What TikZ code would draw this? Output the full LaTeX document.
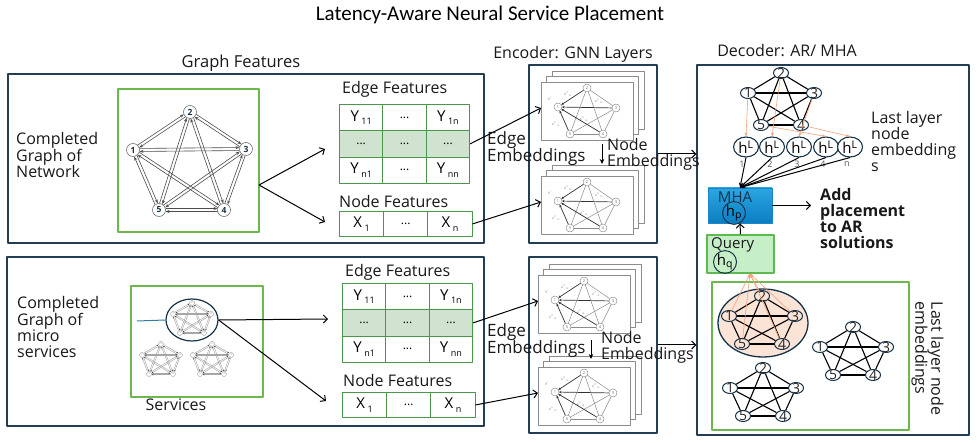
\documentclass[tikz,border=0pt]{standalone}
\usepackage{fontspec}
\setmainfont{Open Sans}
\newfontfamily\titlefont{Carlito}
\usetikzlibrary{arrows.meta,calc,shapes.geometric}

\definecolor{panel}{HTML}{233D52}
\definecolor{boxgreen}{HTML}{6CB84C}
\definecolor{tabgreen}{HTML}{4C964C}
\definecolor{tabfill}{HTML}{D0E3D0}
\definecolor{mhatop}{HTML}{2BA6E3}
\definecolor{mhabot}{HTML}{0B7EC2}
\definecolor{mhaedge}{HTML}{1A86C6}
\definecolor{querygreen}{HTML}{C6EFC8}
\definecolor{queryedge}{HTML}{5DBA4E}
\definecolor{peach}{HTML}{FBE3D6}
\definecolor{attn}{HTML}{F2A27C}
\definecolor{navy}{HTML}{163349}
\definecolor{leadteal}{HTML}{2F7FA5}

\newcommand\setfs[1]{\fontsize{#1}{#1}\selectfont}
\newcommand\lowsub[1]{\raisebox{-0.45ex}{\setfs{9}#1}}
\newcommand\Yv[1]{Y\,\lowsub{#1}}
\newcommand\Xv[1]{X\,\lowsub{#1}}
\newcommand\celldots{{\setfs{12}...}}
\newcommand\ctrtxt[1]{\makebox[0pt]{\smash{\raisebox{-.5\height}{#1}}}}

\tikzset{
  panelbox/.style={draw=panel, line width=1.3pt, inner sep=0pt},
  greenbox/.style={draw=boxgreen, line width=1.3pt, inner sep=0pt},
  lbl/.style={font=\setfs{16}, text=black!90, inner sep=0pt},
  cell/.style={draw=tabgreen, line width=0.9pt, minimum width=43.4pt, minimum height=26.3pt,
    anchor=north west, inner sep=0pt, font=\setfs{15}},
  fcell/.style={cell, minimum width=44.2pt, minimum height=25pt},
  conn/.style={line width=1pt, -{Straight Barb[length=4pt,width=8pt]}},
  downarrow/.style={line width=0.9pt, -{Stealth[length=5pt,width=4.5pt]}},
  dgnode/.style={circle, draw=black!55, line width=0.6pt, fill=white, minimum size=13pt,
    inner sep=0pt, font=\setfs{8.5}\bfseries, text=navy},
  dgarc/.style={line width=0.6pt, draw=black!70, -{Stealth[length=4pt,width=3pt]},
    shorten <=6.5pt, shorten >=6.5pt},
  mininode/.style={circle, draw=black!40, line width=0.4pt, fill=white, minimum size=5pt,
    inner sep=0pt, font=\setfs{2.5}, text=black!50},
  miniarc/.style={line width=0.45pt, draw=black!35, -{Stealth[length=1.6pt,width=1.4pt,color=black!75]},
    shorten <=2.8pt, shorten >=2.8pt},
  sheet/.style={draw=black!45, line width=0.6pt, fill=white},
  thumbnode/.style={circle, draw=black!45, line width=0.5pt, fill=white, minimum size=8pt,
    inner sep=0pt, font=\setfs{4}, text=black!60},
  thumbedge/.style={draw=black!45, line width=0.5pt, shorten <=4pt, shorten >=4pt},
  thumbin/.style={draw=black!80, line width=0.7pt, shorten <=4pt, shorten >=4pt,
    -{Stealth[length=2.6pt,width=2.4pt]}},
  tinytxt/.style={font=\setfs{3.2}, text=black!55, inner sep=0pt},
  dnode/.style={ellipse, draw=navy, line width=1pt, minimum width=15pt, minimum height=11pt,
    inner sep=0pt, font=\setfs{14}, text=black!85},
  dedge/.style={draw=black, line width=1.1pt},
  hnode/.style={ellipse, draw=navy, line width=1.1pt, fill=white, minimum width=25pt,
    minimum height=20pt, inner sep=0pt, font=\setfs{15}},
  hsmall/.style={ellipse, draw=navy, line width=1pt, minimum width=20pt, minimum height=17pt,
    inner sep=0pt, font=\setfs{15}},
  attnarrow/.style={draw=attn, line width=0.6pt, -{Stealth[length=4pt,width=3pt]}},
  hlarrow/.style={draw=black, line width=1pt, -{Stealth[length=5pt,width=4pt]}},
}

% edge-feature matrix: name, left, top
\newcommand\edgetab[3]{%
 \begin{scope}[shift={(#2,#3)}]
  \node[cell] (#1-a1) at (0,0) {\Yv{11}};
  \node[cell] (#1-a2) at (43.4,0) {\celldots};
  \node[cell] (#1-a3) at (86.8,0) {\Yv{1n}};
  \node[cell,fill=tabfill] (#1-b1) at (0,26.3) {\celldots};
  \node[cell,fill=tabfill] (#1-b2) at (43.4,26.3) {\celldots};
  \node[cell,fill=tabfill] (#1-b3) at (86.8,26.3) {\celldots};
  \node[cell] (#1-c1) at (0,52.6) {\Yv{n1}};
  \node[cell] (#1-c2) at (43.4,52.6) {\celldots};
  \node[cell] (#1-c3) at (86.8,52.6) {\Yv{nn}};
 \end{scope}}

% node-feature vector: name, left, top
\newcommand\nodetab[3]{%
 \begin{scope}[shift={(#2,#3)}]
  \node[fcell] (#1-1) at (0,0) {\Xv{1}};
  \node[fcell] (#1-2) at (44.2,0) {\celldots};
  \node[fcell] (#1-3) at (88.4,0) {\Xv{n}};
 \end{scope}}

% small directed K5 of a micro-service: prefix, position of node 2
\newcommand\minidg[3]{%
 \begin{scope}[shift={(#2,#3)}]
  \coordinate (#1c1) at (-19,11);
  \coordinate (#1c2) at (0,0);
  \coordinate (#1c3) at (19,11);
  \coordinate (#1c4) at (12,30);
  \coordinate (#1c5) at (-12,30);
  \foreach \i/\j in {1/2,1/3,1/4,1/5,2/3,2/4,2/5,3/4,3/5,4/5}{
   \draw[miniarc] ($(#1c\i)!0.7pt!90:(#1c\j)$) -- ($(#1c\j)!0.7pt!-90:(#1c\i)$);
   \draw[miniarc] ($(#1c\j)!0.7pt!90:(#1c\i)$) -- ($(#1c\i)!0.7pt!-90:(#1c\j)$);
  }
  \foreach \k in {1,...,5} \node[mininode] (#1n\k) at (#1c\k) {\k};
 \end{scope}}

% stack of GNN layer sheets: prefix, top-left of the front sheet
\newcommand\gnnstack[3]{%
 \begin{scope}[shift={(#2,#3)}]
  \draw[sheet] (11,-11) rectangle (103,47);
  \draw[sheet] (5.5,-5.5) rectangle (97.5,52.5);
  \node[sheet, minimum width=92pt, minimum height=58pt, anchor=north west, inner sep=0pt]
    (#1front) at (0,0) {};
  \coordinate (#1in) at (0,26);
  \coordinate (#1p1) at (17,25);
  \coordinate (#1p2) at (46,6);
  \coordinate (#1p3) at (75,26);
  \coordinate (#1p4) at (62,52);
  \coordinate (#1p5) at (29,52);
  \foreach \i/\j in {2/3,2/4,2/5,3/4,3/5,4/5} \draw[thumbedge] (#1p\i) -- (#1p\j);
  \foreach \i in {2,3,4,5} \draw[thumbin] (#1p\i) -- (#1p1);
  \foreach \k in {1,...,5} \node[thumbnode] (#1n\k) at (#1p\k) {\k};
  \node[tinytxt] (#1t0) at (9,17) {h\textsuperscript{l}};
  \node[tinytxt] (#1t1) at (27,12) {e\textsuperscript{l-1}\textsubscript{12}};
  \node[tinytxt] (#1t2) at (58,19) {e\textsuperscript{l-1}\textsubscript{13}};
  \node[tinytxt] (#1t3) at (43,37) {e\textsuperscript{l-1}\textsubscript{14}};
  \node[tinytxt] (#1t4) at (15,42) {e\textsuperscript{l-1}\textsubscript{15}};
 \end{scope}}

% undirected K5 with numbered nodes: prefix, position of node 2, depth of lower row
\newcommand\kfive[4]{%
 \begin{scope}[shift={(#2,#3)}]
  \node[dnode] (#1n1) at (-33,20) {\ctrtxt{1}};
  \node[dnode] (#1n2) at (0,0) {\ctrtxt{2}};
  \node[dnode] (#1n3) at (33,20) {\ctrtxt{3}};
  \node[dnode] (#1n4) at (20,#4) {\ctrtxt{4}};
  \node[dnode] (#1n5) at (-20,#4) {\ctrtxt{5}};
  \foreach \i/\j in {1/2,1/3,1/4,1/5,2/3,2/4,2/5,3/4,3/5,4/5} \draw[dedge] (#1n\i) -- (#1n\j);
 \end{scope}}

\begin{document}
\begin{tikzpicture}[x=1pt,y=-1pt,line join=round]
\fill[white] (0,0) rectangle (977,443);
\useasboundingbox (0,0) rectangle (977,443);

% titles
\node[font=\titlefont\setfs{21}, inner sep=0pt] (title) at (490,15) {Latency-Aware Neural Service Placement};
\node[lbl, font=\setfs{16.5}] (hgraph) at (241,63) {Graph Features};
\node[lbl] (henc) at (573,54) {Encoder: GNN Layers};
\node[lbl] (hdec) at (787,51) {Decoder: AR/ MHA};

% frames
\node[panelbox, minimum width=476pt, minimum height=169pt] (netpanel) at (246,158.5) {};
\node[panelbox, minimum width=477pt, minimum height=169pt] (svcpanel) at (245.5,341.5) {};
\node[panelbox, minimum width=128pt, minimum height=178pt] (encA) at (593,154) {};
\node[panelbox, minimum width=128pt, minimum height=176pt] (encB) at (593,345) {};
\node[panelbox, minimum width=272pt, minimum height=370pt] (dec) at (833,250) {};
\node[greenbox, minimum width=141pt, minimum height=143pt] (netgreen) at (188.5,160.5) {};
\node[greenbox, minimum width=132pt, minimum height=111pt] (svcgreen) at (197,341.5) {};
\node[greenbox, minimum width=197pt, minimum height=148pt] (embgreen) at (810.5,356) {};

% network graph (complete digraph)
\node[lbl, align=left, anchor=west] (netlbl) at (16,155) {Completed\\Graph of\\Network};
\coordinate (g1) at (133,150);
\coordinate (g2) at (190,112);
\coordinate (g3) at (246,149);
\coordinate (g4) at (224,210);
\coordinate (g5) at (159,210);
\foreach \i/\j in {1/2,1/3,1/4,1/5,2/3,2/4,2/5,3/4,3/5,4/5}{
  \draw[dgarc] ($(g\i)!1.5pt!90:(g\j)$) -- ($(g\j)!1.5pt!-90:(g\i)$);
  \draw[dgarc] ($(g\j)!1.5pt!90:(g\i)$) -- ($(g\i)!1.5pt!-90:(g\j)$);
}
\foreach \k in {1,...,5} \node[dgnode] (gn\k) at (g\k) {\k};

% feature tables
\node[lbl, anchor=west] (efA) at (342,89) {Edge Features};
\edgetab{ta}{339}{104}
\node[lbl, anchor=west] (nfA) at (339,202) {Node Features};
\nodetab{xa}{339}{211}
\node[lbl, anchor=west] (efB) at (345,272) {Edge Features};
\edgetab{tb}{342}{283}
\node[lbl, anchor=west] (nfB) at (343,380) {Node Features};
\nodetab{xb}{342}{392}

% micro-service graphs
\node[lbl, align=left, anchor=west] (svclbl) at (17,327) {Completed\\Graph of\\micro\\services};
\node[ellipse, draw=navy, line width=1.2pt, minimum width=52pt, minimum height=42pt, inner sep=0pt] (svcell) at (192,320) {};
\minidg{ma}{192}{303}
\minidg{mb}{161}{344}
\minidg{mc}{212}{344}
\node[lbl] (svctxt) at (176,405) {Services};
\coordinate (svlead) at (137,321);
\draw[leadteal, line width=1pt] (svlead) -- (svcell.west);

% connectors into the feature tables
\coordinate (netout) at (259,185);
\coordinate (toEA) at (325,149);
\coordinate (toNA) at (325,222);
\draw[conn] (netout) -- (toEA);
\draw[conn] (netout) -- (toNA);
\coordinate (toEB) at (328,319);
\coordinate (toNB) at (326,401);
\draw[conn] (svcell.east) -- (toEB);
\draw[conn] (svcell.east) -- (toNB);

% encoder stacks
\gnnstack{ka}{541}{82}
\gnnstack{kb}{541}{176}
\gnnstack{kc}{538}{275}
\gnnstack{kd}{538}{367}
\draw[conn] (ta-b3.east) -- (kain);
\draw[conn] (xa-3.east) -- (kbin);
\draw[conn] (tb-b3.east) -- (kcin);
\draw[conn] (xb-3.east) -- (kdin);

\node[lbl, font=\setfs{17}, align=left, anchor=west] (eeA) at (487,149) {Edge\\Embeddings};
\coordinate (dnAtop) at (602,144);
\coordinate (dnAbot) at (602,164);
\draw[downarrow] (dnAtop) -- (dnAbot);
\node[lbl, align=left, anchor=west] (neA) at (607,154) {Node\\Embeddings};
\node[lbl, font=\setfs{17}, align=left, anchor=west] (eeB) at (487,341) {Edge\\Embeddings};
\coordinate (dnBtop) at (591,340);
\coordinate (dnBbot) at (591,359);
\draw[downarrow] (dnBtop) -- (dnBbot);
\node[lbl, align=left, anchor=west] (neB) at (601,347) {Node\\Embeddings};

\draw[conn] (encA.east) -- (encA.east -| dec.west);
\draw[conn] (encB.east) -- (encB.east -| dec.west);

% decoder
\kfive{dt}{781}{73}{52}
\node[lbl, align=left, anchor=west] (lastnode) at (871,141.5) {Last layer\\node\\embedding\\s};

\node[draw=mhaedge, line width=0.8pt, top color=mhatop, bottom color=mhabot,
  minimum width=64pt, minimum height=35pt, inner sep=0pt] (mha) at (740,205.5) {};
\node[lbl, font=\setfs{15}, text=navy] (mhalbl) at (735,197) {MHA};
\node[hsmall] (hp) at (734,213) {h\textsubscript{p}};

\foreach \k/\x in {1/746,2/772,3/799,4/826,5/850}
  \node[hnode] (hL\k) at (\x,147) {h\textsuperscript{L}};
\foreach \k/\x/\t in {1/742/1,2/770/2,3/797/3,4/823/4,5/847/n}
  \node[font=\setfs{9}, text=black!65, inner sep=0pt] (hs\k) at (\x,164) {\t};

\draw[attnarrow] (dtn1) -- (hL1.north);
\draw[attnarrow] (dtn2) -- (hL2.north);
\draw[attnarrow] (dtn3) -- (hL3.north);
\draw[attnarrow] (dtn5) -- (hL4.north);
\draw[attnarrow] (dtn4) -- (hL5.north);
\foreach \k in {1,...,5} \draw[hlarrow] (hL\k.south) -- (mha.north);

\node[lbl, font=\setfs{16}\bfseries, align=left, anchor=west] (addtxt) at (820,219) {Add\\placement\\to AR\\solutions};
\draw[conn, shorten >=9pt] (mha.east) -- (mha.east -| addtxt.west);

\node[draw=queryedge, line width=1.5pt, fill=querygreen, minimum width=67pt, minimum height=38pt, inner sep=0pt] (query) at (740.5,254) {};
\node[lbl, font=\setfs{15}, anchor=west] (qlbl) at (711,245) {Query};
\node[hsmall, minimum width=23pt, minimum height=16pt] (hq) at (725,262) {h\textsubscript{q}};
\draw[conn] (query.north) -- (mha.south);

\node[ellipse, draw=navy, line width=1.3pt, fill=peach, minimum width=90pt, minimum height=68pt, inner sep=0pt] (hlight) at (763,323) {};
\kfive{dp}{762}{296}{48}
\kfive{dr}{853}{327}{48}
\kfive{db}{763}{368}{48}
\coordinate (qin) at ($(query.south)+(9.5,0)$);
\foreach \k in {1,...,5} \draw[attnarrow] (dpn\k) -- (qin);

\node[lbl, rotate=-90, align=left] (lastemb) at (927.5,358.5) {Last layer node\\embeddings};
\end{tikzpicture}
\end{document}
